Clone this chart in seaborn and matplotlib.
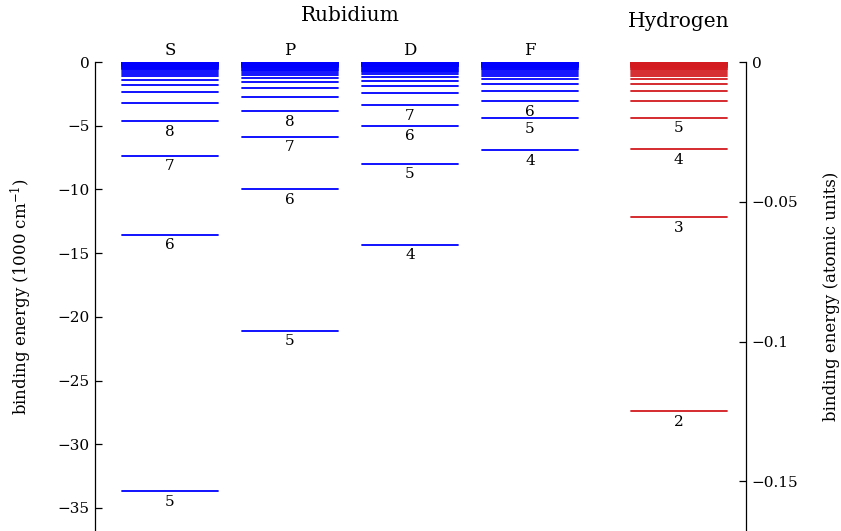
import matplotlib
matplotlib.use("Agg")
import matplotlib.pyplot as plt
import numpy as np
import pandas as pd
import seaborn as sns
from matplotlib.ticker import FixedLocator, FuncFormatter

# ---------------- data (binding energies, 1000 cm^-1) ----------------
columns = ["S", "P", "D", "F", "H"]
n_start = [5, 5, 4, 4, 2]

S_levels = [33.691, 13.558, 7.379, 4.644, 3.191, 2.329, 1.773, 1.395, 1.127, 0.929,
            0.779, 0.663, 0.571, 0.496, 0.436, 0.386, 0.344, 0.308, 0.278, 0.252,
            0.230, 0.210, 0.193, 0.177, 0.164, 0.152, 0.141, 0.132, 0.123, 0.115,
            0.108, 0.102, 0.096, 0.090, 0.085, 0.081]
P_levels = [21.112, 9.976, 5.856, 3.856, 2.732, 2.037, 1.577, 1.258, 1.026, 0.853,
            0.720, 0.616, 0.533, 0.466, 0.411, 0.365, 0.326, 0.293, 0.265, 0.241,
            0.220, 0.201, 0.185, 0.171, 0.158, 0.147, 0.137, 0.127, 0.119, 0.112,
            0.105, 0.099, 0.093, 0.088, 0.083, 0.079]
D_levels = [14.335, 7.990, 5.004, 3.411, 2.469, 1.869, 1.464, 1.176, 0.966, 0.808,
            0.685, 0.589, 0.511, 0.448, 0.396, 0.352, 0.315, 0.284, 0.257, 0.234,
            0.214, 0.196, 0.181, 0.167, 0.155, 0.144, 0.134, 0.125, 0.117, 0.110,
            0.103, 0.097, 0.091, 0.086, 0.082, 0.077, 0.073]
F_levels = [6.916, 4.419, 3.065, 2.250, 1.722, 1.360, 1.101, 0.910, 0.764, 0.651,
            0.561, 0.489, 0.430, 0.381, 0.339, 0.305, 0.275, 0.249, 0.227, 0.208,
            0.191, 0.176, 0.163, 0.151, 0.140, 0.131, 0.122, 0.114, 0.107, 0.101,
            0.095, 0.090, 0.085, 0.080, 0.076, 0.072, 0.069]
H_levels = [27.419, 12.186, 6.855, 4.387, 3.047, 2.238, 1.714, 1.354, 1.097, 0.906,
            0.762, 0.649, 0.560, 0.488, 0.428, 0.380, 0.339, 0.304, 0.274, 0.249,
            0.227, 0.207, 0.190, 0.176, 0.162, 0.150, 0.140, 0.130, 0.122, 0.114,
            0.107, 0.101, 0.095, 0.090, 0.085, 0.080, 0.076, 0.072, 0.069]

S_labels = [5, 6, 7, 8]
P_labels = [5, 6, 7, 8]
D_labels = [4, 5, 6, 7]
F_labels = [4, 5, 6]
H_labels = [2, 3, 4, 5]

HARTREE_CM = 219.4746  # 1000 cm^-1 per atomic unit

levels = [S_levels, P_levels, D_levels, F_levels, H_levels]
labels = [S_labels, P_labels, D_labels, F_labels, H_labels]

# ---------------- style ----------------
sns.set_theme(style="white")
plt.rcParams["font.family"] = ["DejaVu Serif"]
plt.rcParams["mathtext.fontset"] = "dejavuserif"
plt.rcParams["text.color"] = "black"
plt.rcParams["axes.labelcolor"] = "black"
plt.rcParams["xtick.color"] = "black"
plt.rcParams["ytick.color"] = "black"
plt.rcParams["axes.edgecolor"] = "black"

x_pos = [0, 1, 2, 3, 4.2375]
half = 0.4

rows = []
for col, start, lev, xp in zip(columns, n_start, levels, x_pos):
    atom = "H" if col == "H" else "Rb"
    for i, E in enumerate(lev):
        n = start + i
        for dx in (-half, half):
            rows.append(dict(atom=atom, uid=f"{col}{n}", x=xp + dx, E=-E))
df = pd.DataFrame(rows)

fig = plt.figure(figsize=(8.41, 5.31), dpi=100)
ax = fig.add_axes([95 / 841, 0.0, 651 / 841, 469 / 531])

sns.lineplot(data=df, x="x", y="E", hue="atom", units="uid", estimator=None,
             sort=False, palette={"Rb": "#0000ff", "H": "#d21a1f"},
             linewidth=1.3, legend=False, ax=ax)

ylo, yhi = -36.81, 0.0
ax.set_xlim(-0.625, 4.8)
ax.set_ylim(ylo, yhi)

# level labels
for col, start, lev, lab, xp in zip(columns, n_start, levels, labels, x_pos):
    for n in lab:
        E = lev[n - start]
        ax.annotate(str(n), xy=(xp, -E), xytext=(0, -2.5), textcoords="offset points",
                    ha="center", va="top", fontsize=11)

# column headers
for col, xp in zip(columns[:4], x_pos[:4]):
    ax.annotate(col, xy=(xp, 0), xytext=(0, 5), textcoords="offset points",
                ha="center", va="baseline", fontsize=12, annotation_clip=False)
ax.annotate("Rubidium", xy=(1.5, 0), xytext=(0, 29.5), textcoords="offset points",
            ha="center", va="baseline", fontsize=14.5, annotation_clip=False)
ax.annotate("Hydrogen", xy=(x_pos[4], 0), xytext=(0, 25), textcoords="offset points",
            ha="center", va="baseline", fontsize=14.5, annotation_clip=False)

# left axis
for s in ["top", "right", "bottom"]:
    ax.spines[s].set_visible(False)
ax.spines["left"].set_linewidth(0.9)
ax.set_xticks([])
ax.set_xlabel("")
ax.yaxis.set_major_locator(FixedLocator([0, -5, -10, -15, -20, -25, -30, -35]))
ax.yaxis.set_major_formatter(FuncFormatter(lambda v, p: f"{v:g}".replace("-", "\u2212")))
ax.tick_params(axis="y", left=True, direction="in", length=5, width=0.9,
               labelsize=11, pad=4)
ax.set_ylabel("binding energy (1000 cm$^{-1}$)", fontsize=12, labelpad=16.5)

# right axis (atomic units)
ax2 = ax.twinx()
ax2.set_position(ax.get_position())
ax2.set_ylim(ylo / HARTREE_CM, yhi / HARTREE_CM)
for s in ["top", "left", "bottom"]:
    ax2.spines[s].set_visible(False)
ax2.spines["right"].set_linewidth(0.9)
ax2.yaxis.set_major_locator(FixedLocator([0, -0.05, -0.1, -0.15]))
ax2.yaxis.set_major_formatter(FuncFormatter(lambda v, p: f"{v:g}".replace("-", "\u2212")))
ax2.tick_params(axis="y", right=True, left=False, direction="in", length=5, width=0.9,
                labelsize=11, pad=4)
ax2.set_ylabel("binding energy (atomic units)", fontsize=12, labelpad=18)

fig.savefig("out.png", dpi=100)
